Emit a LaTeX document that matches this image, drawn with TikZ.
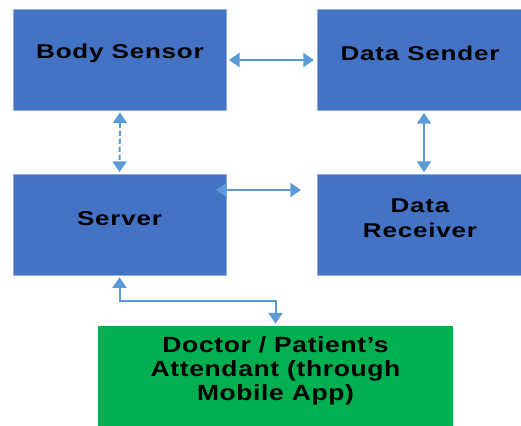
\documentclass[tikz,border=0pt]{standalone}
\usepackage{fontspec}
\setmainfont{Liberation Sans}
\usetikzlibrary{arrows.meta,calc}
\definecolor{boxblue}{HTML}{4472C4}
\definecolor{boxedge}{HTML}{8FAADC}
\definecolor{boxgreen}{HTML}{00B050}
\definecolor{linkblue}{HTML}{5B9BD5}
\tikzset{
  block/.style={draw=boxedge, line width=0.6pt, fill=boxblue, minimum width=159.75pt, minimum height=75.75pt, inner sep=0pt},
  lbl/.style={font=\fontsize{15}{18.5}\selectfont\bfseries\addfontfeature{FakeStretch=1.3,LetterSpace=4}, align=center, inner sep=0pt},
  biglbl/.style={lbl, font=\fontsize{16.5}{18}\selectfont\bfseries\addfontfeature{FakeStretch=1.2,LetterSpace=3}},
  link/.style={linkblue, line width=1.5pt, {Triangle[width=10.5pt,length=8pt]}-{Triangle[width=10.5pt,length=8pt]}}
}
\begin{document}
\begin{tikzpicture}[x=0.75pt,y=-0.75pt]
    \useasboundingbox (0,0) rectangle (521,425);
    % blocks
    \node[block] (bs) at (120,59.5) {};
    \node[block, minimum width=154.5pt] (ds) at (420,60) {};
    \node[block] (srv) at (119.5,225) {};
    \node[block, minimum width=154.5pt] (rcv) at (420,225) {};
    \node[block, fill=boxgreen, draw=none, minimum width=266.25pt, minimum height=75pt] (doc) at (275.5,376) {};
    % labels
    \node[lbl] (bsl) at ([yshift=5]bs.center) {Body Sensor};
    \node[lbl] (dsl) at ([yshift=5]ds.center) {Data Sender};
    \node[lbl] (srvl) at ([yshift=5]srv.center) {Server};
    \node[lbl] (rcvl) at ([yshift=5]rcv.center) {Data\\Receiver};
    \node[biglbl] (docl) at ([yshift=4]doc.center) {Doctor / Patient’s\\Attendant (through\\Mobile App)};
    % links
    \draw[link] ([xshift=1.5]bs.east |- 0,60) -- ([xshift=-2]ds.west |- 0,60);
    \draw[link, dash pattern=on 4pt off 2pt] ([yshift=-1.5]bs.south) -- ([yshift=1.5]srv.north);
    \draw[link] ([yshift=-1.5]ds.south -| 424,0) -- ([yshift=1.5]rcv.north -| 424,0);
    \coordinate (srvend) at (216,190);
    \coordinate (rcvend) at (301,190);
    \draw[link] (srvend) -- (rcvend);
    \draw[link] ([yshift=-1]srv.south) |- (275.5,301) -- ([yshift=1.5]doc.north);
\end{tikzpicture}
\end{document}
